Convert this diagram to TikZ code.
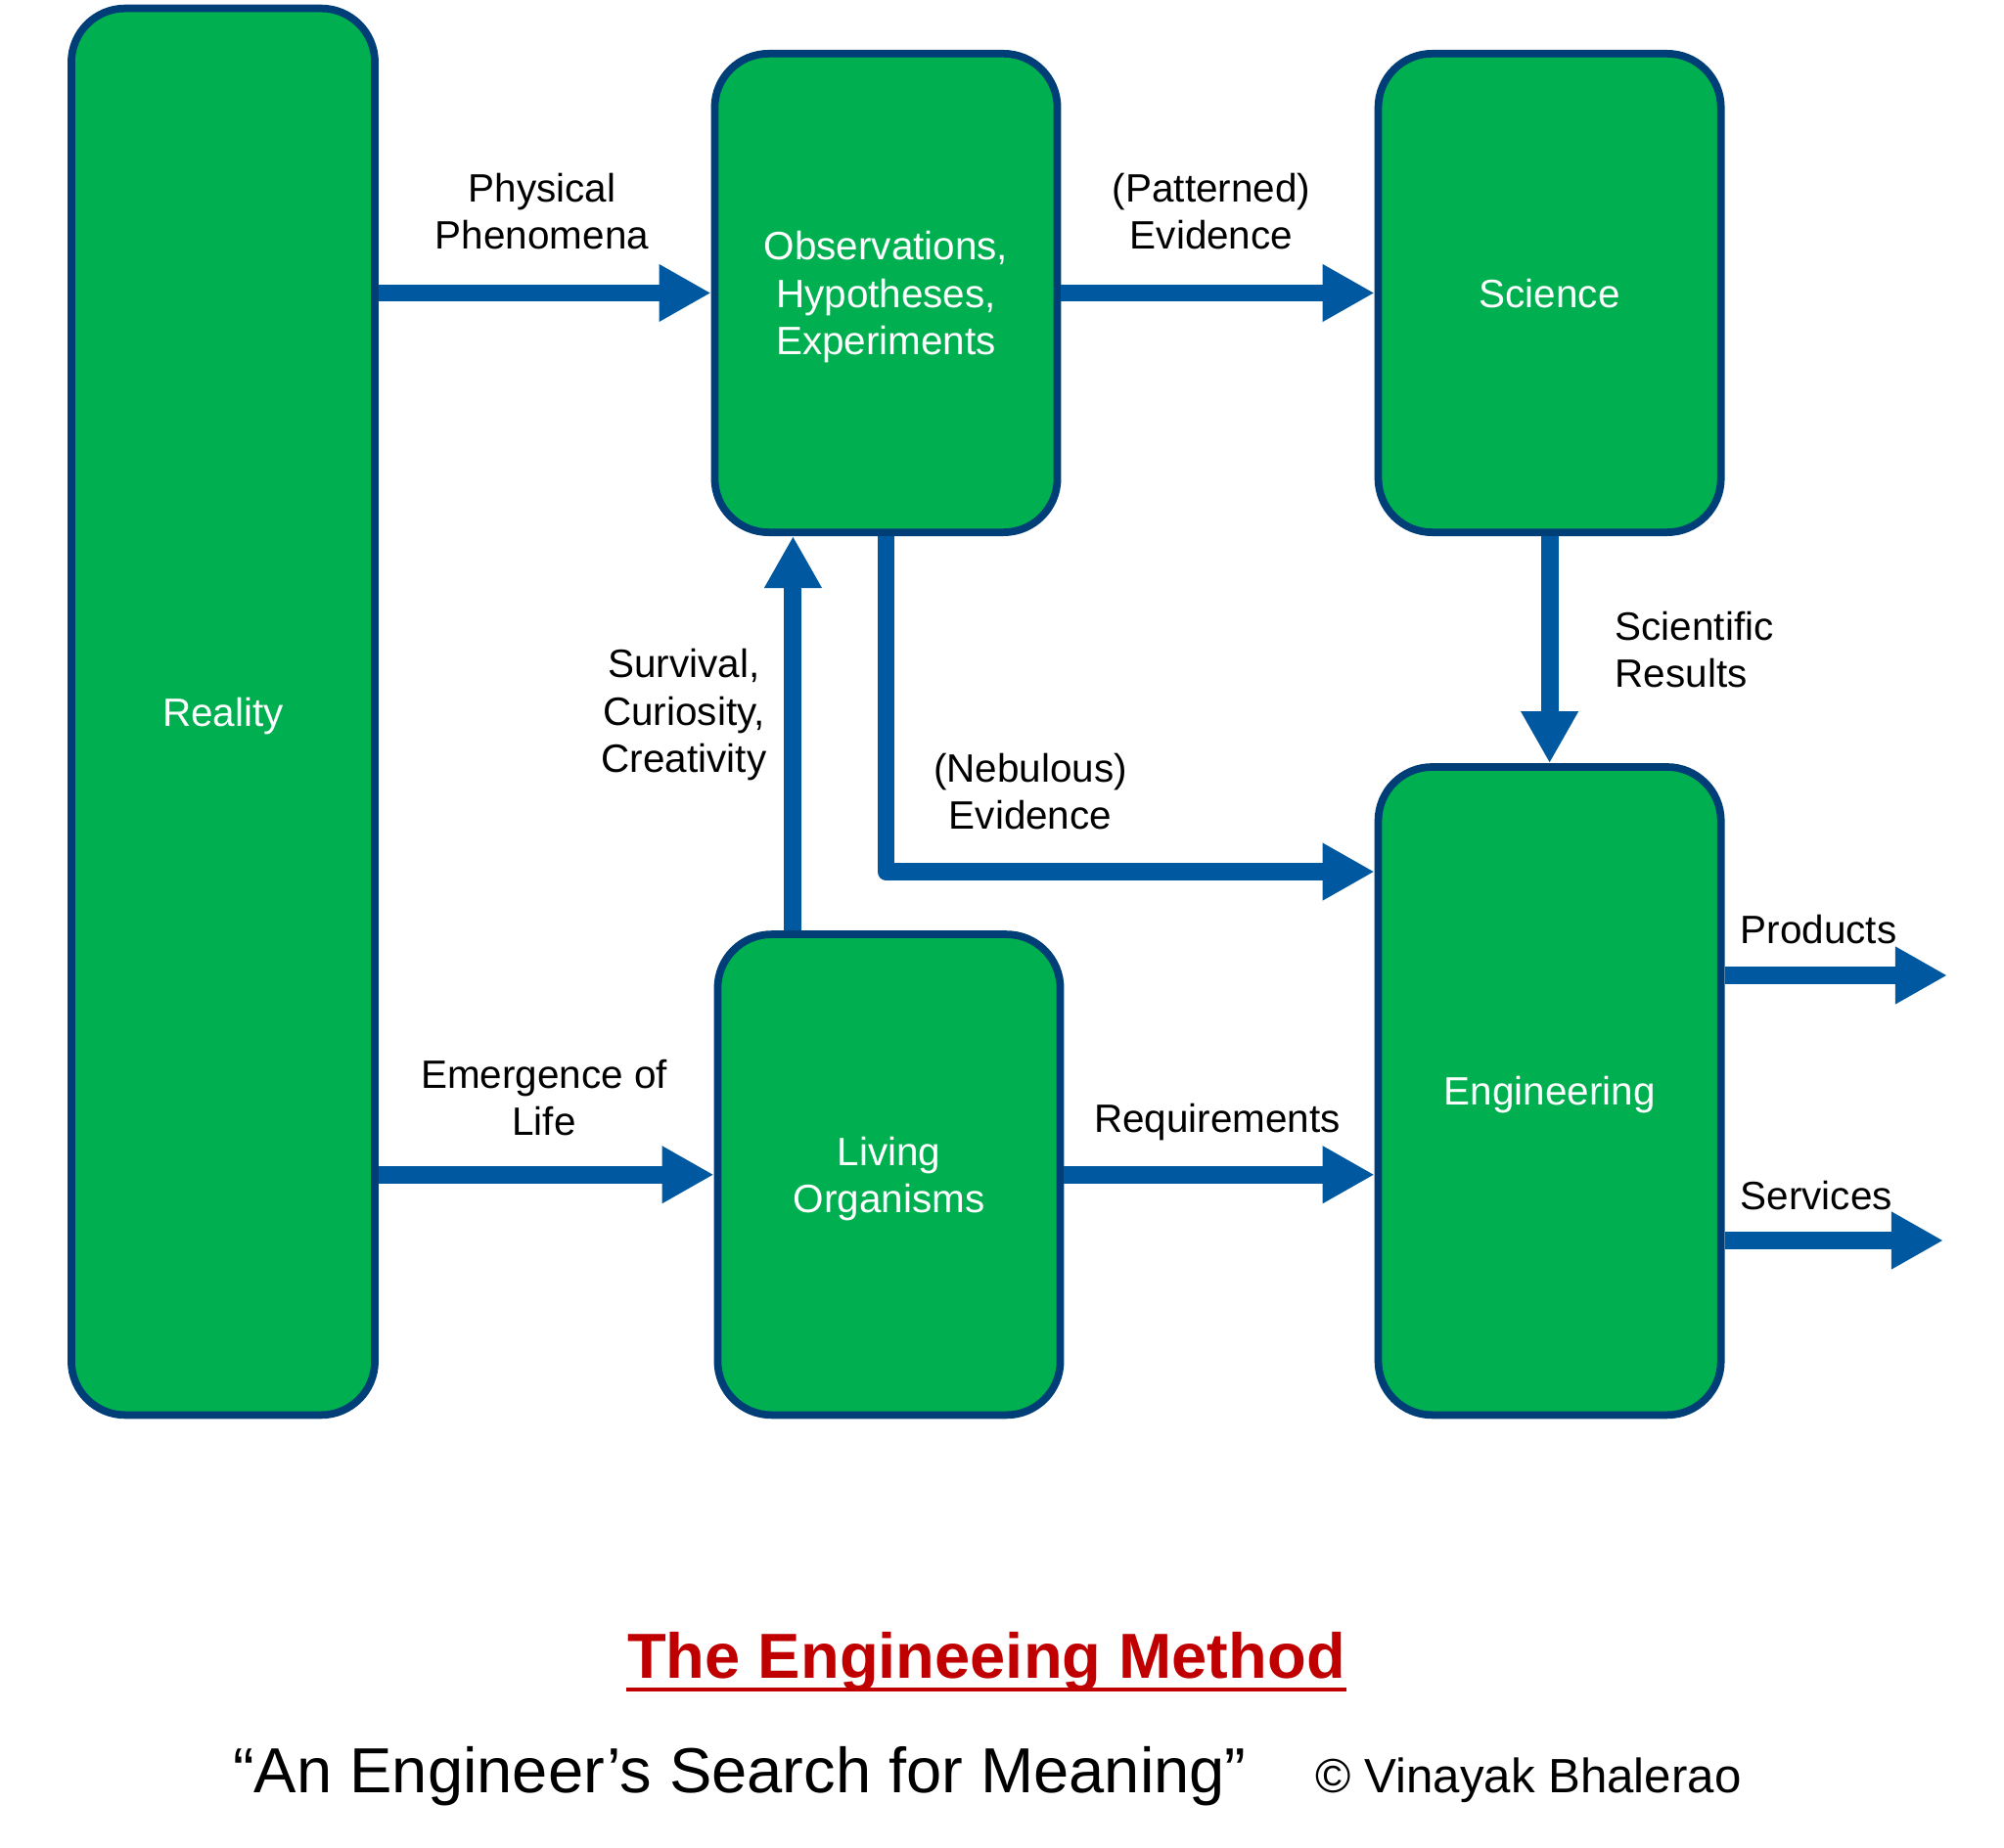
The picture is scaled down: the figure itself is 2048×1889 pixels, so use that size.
\documentclass[tikz,border=0pt]{standalone}
\usepackage{fontspec}
\setmainfont{Liberation Sans}
\usetikzlibrary{arrows.meta, positioning}
\definecolor{boxgreen}{RGB}{0,176,80}
\definecolor{boxline}{RGB}{0,62,120}
\definecolor{flowblue}{RGB}{0,88,160}
\definecolor{titlered}{RGB}{192,0,0}

\begin{document}
\begin{tikzpicture}[x=0.01cm, y=-0.01cm,
	every node/.style={align=center, font=\fontsize{11.5}{13.8}\selectfont},
	block/.style={rectangle, rounded corners=0.55cm, draw=boxline, line width=2.2pt, fill=boxgreen, text=white, text depth=0pt, minimum width=3.50cm},
	flow/.style={draw=flowblue, line width=5.1pt, line join=round, -{Triangle[length=5.3mm, width=5.5mm]}},
	lbl/.style={inner sep=0pt}]
				\useasboundingbox (0,0) rectangle (2048,1889);
				
				% Nodes
				\node (reality) [block, minimum width=3.10cm, minimum height=14.37cm] at (228,727.5) {Reality};
				\node (obs) [block, minimum height=4.89cm] at (905.5,299.5) {Observations,\\Hypotheses,\\Experiments};
				\node (sci) [block, minimum height=4.89cm, right=3.20cm of obs] {Science};
				\node (living) [block, minimum height=4.91cm, below=4.03cm of obs, xshift=0.03cm] {Living\\Organisms};
				\node (eng) [block, minimum height=6.62cm, below=2.32cm of sci] {Engineering};
				
				% Labels
				\node (phys) [lbl] at (554,216) {Physical\\Phenomena};
				\node (patt) [lbl] at (1238,216) {(Patterned)\\Evidence};
				\node (scires) [lbl, anchor=west, align=left] at (1650,664) {Scientific\\Results};
				\node (neb) [lbl] at (1053,809) {(Nebulous)\\Evidence};
				\node (surv) [lbl] at (699,731) {Survival,\\Curiosity,\\Creativity};
				\node (emerg) [lbl] at (556,1122) {Emergence of\\Life};
				\node (req) [lbl, anchor=base] at (1244,1158) {Requirements};
				\node (prod) [lbl, anchor=base west] at (1778,965) {Products};
				\node (serv) [lbl, anchor=base west] at (1778,1237) {Services};
				\coordinate (prodend) at (1990,997);
				\coordinate (servend) at (1986,1268);
				
				% Arrows
				\draw[flow] (reality.east |- obs) -- (obs.west);
				\draw[flow] (obs.east) -- (sci.west);
				\draw[flow] (sci.south) -- (eng.north);
				\draw[flow] (obs.south) |- ([yshift=2.24cm]eng.west);
				\draw[flow] ([xshift=-9.8mm]living.north) -- ([xshift=-9.8mm]living.north |- obs.south);
				\draw[flow] (reality.east |- living) -- (living.west);
				\draw[flow] (living.east) -- (living.east -| eng.west);
				\draw[flow] (eng.east |- prodend) -- (prodend);
				\draw[flow] (eng.east |- servend) -- (servend);
				
				% Title
				\node (title) [lbl, anchor=base, text=titlered, font=\fontsize{18.5}{22}\selectfont\bfseries] at (1008,1715) {The Engineeing Method};
				\draw[titlered, line width=1.4pt] ([yshift=-0.12cm]title.base west) -- ([yshift=-0.12cm]title.base east);
				\node (quote) [lbl, anchor=base, font=\fontsize{18.5}{22}\selectfont] at (756,1832) {“An Engineer’s Search for Meaning”};
				\node (copy) [lbl, anchor=base, font=\fontsize{14}{17}\selectfont] at (1562,1832) {© Vinayak Bhalerao};
			\end{tikzpicture}
\end{document}
